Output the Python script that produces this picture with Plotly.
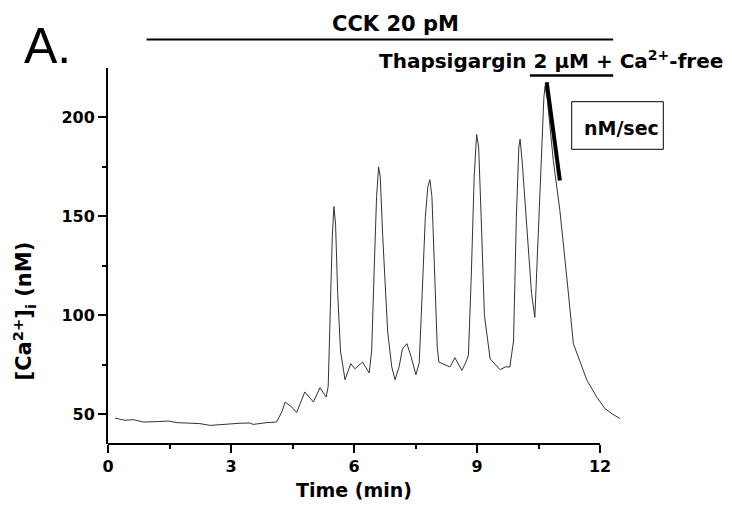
import plotly.graph_objects as go

# ---- data: time (min) and [Ca2+]i (nM) ----
time_min = [0.17, 0.41, 0.62, 0.86, 1.19, 1.47, 1.68, 2.0, 2.24, 2.49, 2.73, 2.98, 3.22, 3.46,
            3.54, 3.87, 4.11, 4.24, 4.32, 4.48, 4.60, 4.80, 5.01, 5.17, 5.32,
            5.37, 5.42, 5.47, 5.51, 5.55, 5.60, 5.67, 5.78,
            5.92, 6.02, 6.21, 6.37, 6.43, 6.49, 6.55, 6.60, 6.64, 6.70, 6.82, 6.92, 7.0,
            7.10, 7.18, 7.29, 7.38, 7.51, 7.59, 7.66, 7.74, 7.80, 7.85, 7.90, 7.96, 8.03, 8.07,
            8.20, 8.34, 8.46, 8.63, 8.72, 8.79, 8.86, 8.93, 8.99, 9.04, 9.10, 9.18, 9.32,
            9.45, 9.56, 9.70, 9.80, 9.89, 9.96, 10.02, 10.05, 10.10, 10.21, 10.33, 10.41,
            10.50, 10.58, 10.63, 10.66, 10.72, 10.86, 11.02, 11.19, 11.35, 11.47, 11.68,
            11.92, 12.12, 12.29, 12.49]
ca_nM = [48.1, 47.0, 47.3, 46.1, 46.3, 46.6, 45.8, 45.6, 45.3, 44.4, 44.8, 45.3, 45.5, 45.6,
         44.9, 45.8, 46.1, 51.2, 56.2, 53.7, 50.9, 61.3, 56.2, 63.5, 58.7,
         64.0, 100.0, 140.0, 155.0, 146.0, 112.0, 82.0, 67.5,
         75.6, 73.0, 76.4, 70.9, 82.0, 122.0, 160.0, 175.0, 170.0, 140.0, 92.0, 74.0, 67.5,
         74.0, 83.0, 85.7, 80.0, 70.0, 76.0, 110.0, 150.0, 165.0, 168.5, 160.0, 125.0, 84.0, 76.4,
         75.0, 73.9, 78.6, 72.2, 76.0, 79.8, 120.0, 170.0, 191.4, 185.0, 150.0, 100.0, 78.0,
         75.0, 72.6, 74.0, 73.9, 87.0, 150.0, 185.0, 189.0, 178.0, 144.6, 111.0, 99.0,
         144.6, 186.7, 210.0, 216.0, 208.0, 178.3, 153.0, 119.0, 85.7, 79.0, 67.2,
         58.7, 52.9, 50.3, 47.8]

x_tick_vals = [0, 3, 6, 9, 12]
x_minor_vals = [1.5, 4.5, 7.5, 10.5]
y_tick_vals = [50, 100, 150, 200]
y_minor_vals = [75, 125, 175]

# annotation positions (time in min / concentration in nM)
cck_bar = [0.94, 12.32]
thaps_bar = [10.29, 12.32]
thaps_bar_level = 221.2
slope_line_t = [10.70, 11.02]
slope_line_ca = [217.8, 168.2]

# ---- geometry (screen pixels; the page body adds an 8px offset) ----
OFF = 8
FIG_W, FIG_H = 732 - OFF, 524 - OFF
PLOT_L, PLOT_R, PLOT_T, PLOT_B = 108, 623, 68, 444   # screen pixels
M_L, M_T = PLOT_L - OFF, PLOT_T - OFF
M_R = FIG_W - (PLOT_R - OFF)
M_B = FIG_H - (PLOT_B - OFF)
PW = PLOT_R - PLOT_L
PH = PLOT_B - PLOT_T
X_RANGE = [0, 12.56]
Y_RANGE = [35, 225]


def px_to_paper_x(px):
    return (px - PLOT_L) / PW


def px_to_paper_y(py):
    return (PLOT_B - py) / PH


BOLD_FONT = "DejaVu Sans"
TICK_FONT = dict(family="DejaVu Sans", size=16, color="black")

fig = go.Figure()
fig.add_trace(go.Scatter(x=time_min, y=ca_nM, mode="lines",
                         line=dict(color="#333333", width=1), showlegend=False,
                         hoverinfo="skip"))

fig.update_layout(
    width=FIG_W, height=FIG_H,
    margin=dict(l=M_L, r=M_R, t=M_T, b=M_B, pad=0, autoexpand=False),
    paper_bgcolor="white", plot_bgcolor="white",
    showlegend=False,
    xaxis=dict(range=X_RANGE, showgrid=False, zeroline=False, showline=False,
               automargin=False,
               tickmode="array", tickvals=x_tick_vals,
               ticktext=["<b>%d</b>" % v for v in x_tick_vals],
               ticks="outside", ticklen=8, tickwidth=2, tickcolor="black",
               tickfont=TICK_FONT,
               minor=dict(tickvals=x_minor_vals, ticks="outside", ticklen=4, tickwidth=2,
                          tickcolor="black", showgrid=False)),
    yaxis=dict(range=Y_RANGE, showgrid=False, zeroline=False, showline=True,
               automargin=False,
               linecolor="black", linewidth=2,
               tickmode="array", tickvals=y_tick_vals,
               ticktext=["<b>%d</b>" % v for v in y_tick_vals],
               ticks="outside", ticklen=8, tickwidth=2, tickcolor="black",
               tickfont=TICK_FONT,
               minor=dict(tickvals=y_minor_vals, ticks="outside", ticklen=4, tickwidth=2,
                          tickcolor="black", showgrid=False)),
)

# x axis line (ends at 12 min like the reference)
fig.add_shape(type="line", xref="x", yref="paper", x0=-0.02, x1=12.0, y0=0, y1=0,
              line=dict(color="black", width=2))

# CCK bar and label
fig.add_shape(type="line", xref="x", yref="paper", x0=cck_bar[0], x1=cck_bar[1],
              y0=px_to_paper_y(39.5), y1=px_to_paper_y(39.5), line=dict(color="black", width=2))
fig.add_annotation(text="<b>CCK 20 pM</b>", xref="x", yref="paper", x=7.02,
                   y=px_to_paper_y(24), xanchor="center", yanchor="middle", showarrow=False,
                   font=dict(family=BOLD_FONT, size=21, color="black"))

# thapsigargin bar and label
fig.add_shape(type="line", xref="x", yref="y", x0=thaps_bar[0], x1=thaps_bar[1],
              y0=thaps_bar_level, y1=thaps_bar_level, line=dict(color="black", width=2.5))
fig.add_annotation(text="<b>Thapsigargin 2 μM + Ca<sup>2+</sup>-free</b>", xref="x",
                   yref="paper", x=10.80, y=px_to_paper_y(60), xanchor="center",
                   yanchor="middle", showarrow=False,
                   font=dict(family=BOLD_FONT, size=20, color="black"))

# slope line
fig.add_shape(type="line", xref="x", yref="y", x0=slope_line_t[0], x1=slope_line_t[1],
              y0=slope_line_ca[0], y1=slope_line_ca[1], line=dict(color="black", width=4))

# nM/sec box
fig.add_shape(type="rect", xref="paper", yref="paper",
              x0=px_to_paper_x(571.7), x1=px_to_paper_x(663.3),
              y0=px_to_paper_y(149.3), y1=px_to_paper_y(101.7),
              line=dict(color="black", width=1), fillcolor="rgba(0,0,0,0)")
fig.add_annotation(text="<b>nM/sec</b>", xref="paper", yref="paper",
                   x=px_to_paper_x(621), y=px_to_paper_y(128), xanchor="center",
                   yanchor="middle", showarrow=False,
                   font=dict(family=BOLD_FONT, size=19, color="black"))

# panel label
fig.add_annotation(text="A.", xref="paper", yref="paper", x=px_to_paper_x(22),
                   y=px_to_paper_y(46), xanchor="left", yanchor="middle", showarrow=False,
                   font=dict(family="Liberation Sans", size=50, color="black"))

# axis titles
fig.add_annotation(text="<b>Time (min)</b>", xref="x", yref="paper", x=6,
                   y=px_to_paper_y(490), xanchor="center", yanchor="middle", showarrow=False,
                   font=dict(family=BOLD_FONT, size=19, color="black"))
fig.add_annotation(text="<b>[Ca<sup>2+</sup>]<sub>i</sub> (nM)</b>", xref="paper", yref="y",
                   x=px_to_paper_x(24), y=102, xanchor="center", yanchor="middle",
                   textangle=-90, showarrow=False,
                   font=dict(family=BOLD_FONT, size=21, color="black"))

fig.write_html("out.html")
